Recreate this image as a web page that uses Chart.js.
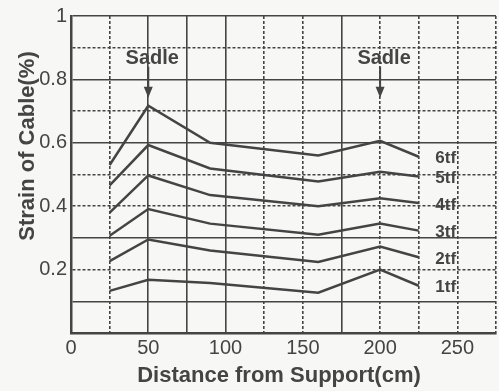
<!DOCTYPE html>
<html>
<head>
<meta charset="utf-8">
<script src="https://cdn.jsdelivr.net/npm/chart.js@4.4.1/dist/chart.umd.min.js"></script>
<style>
  html, body { margin: 0; padding: 0; background: #f7f7f5; }
  #wrap { width: 499px; height: 391px; }
</style>
</head>
<body>
<div id="wrap"><canvas id="strainChart"></canvas></div>
<script>
  // distance from support (cm)
  const distances = [25, 50, 90, 160, 200, 225];

  // strain of cable (%) per load step
  const strain1tf = [0.133, 0.168, 0.158, 0.127, 0.2, 0.149];
  const strain2tf = [0.227, 0.295, 0.26, 0.224, 0.273, 0.239];
  const strain3tf = [0.307, 0.391, 0.345, 0.31, 0.345, 0.323];
  const strain4tf = [0.38, 0.497, 0.435, 0.4, 0.425, 0.41];
  const strain5tf = [0.466, 0.593, 0.519, 0.478, 0.509, 0.494];
  const strain6tf = [0.53, 0.717, 0.6, 0.56, 0.606, 0.556];

  const loadLabels = ["1tf", "2tf", "3tf", "4tf", "5tf", "6tf"];
  const allStrains = [strain1tf, strain2tf, strain3tf, strain4tf, strain5tf, strain6tf];

  const xTickLabels = [0, 50, 100, 150, 200, 250];
  const yTickLabels = [0.2, 0.4, 0.6, 0.8, 1];

  const sadleAt = [50, 200];
  const sadleText = "Sadle";

  const ink = "#444444";
  const font = "'Liberation Sans', Arial, sans-serif";

  // which grid lines look dashed in the scan
  const dashedX = [25, 125, 150, 200, 225, 250, 275];
  const dashedY = [5, 7, 9, 4, 2]; // tenths

  const datasets = allStrains.map((vals, i) => ({
    label: loadLabels[i],
    data: distances.map((d, j) => ({ x: d, y: vals[j] })),
    borderColor: ink,
    borderWidth: 2.5,
    pointRadius: 0,
    tension: 0,
    fill: false,
  }));

  const extras = {
    id: "extras",
    afterDraw(chart) {
      const c = chart.ctx;
      const xs = chart.scales.x;
      const ys = chart.scales.y;
      c.save();
      c.fillStyle = ink;
      c.strokeStyle = ink;

      // load labels at the right end of each line
      c.font = "bold 17px " + font;
      c.textAlign = "center";
      c.textBaseline = "middle";
      allStrains.forEach((vals, i) => {
        const last = vals.length - 1;
        const px = xs.getPixelForValue(distances[last]) + 27;
        const py = ys.getPixelForValue(vals[last]) + 2;
        c.fillText(loadLabels[i], px, py);
      });

      // "Sadle" markers with arrows
      sadleAt.forEach((d) => {
        const px = xs.getPixelForValue(d);
        c.font = "bold 20px " + font;
        c.fillText(sadleText, px + 4, ys.getPixelForValue(0.866));
        const top = ys.getPixelForValue(0.84);
        const tip = ys.getPixelForValue(0.742);
        c.lineWidth = 2;
        c.beginPath();
        c.moveTo(px, top);
        c.lineTo(px, tip - 6);
        c.stroke();
        c.beginPath();
        c.moveTo(px - 4.5, tip - 11);
        c.lineTo(px + 4.5, tip - 11);
        c.lineTo(px, tip);
        c.closePath();
        c.fill();
      });

      // axis titles
      c.font = "bold 22px " + font;
      c.fillText("Distance from Support(cm)", 279, 376);
      c.translate(28, 146);
      c.rotate(-Math.PI / 2);
      c.fillText("Strain of Cable(%)", 0, 0);
      c.restore();
    },
  };

  new Chart(document.getElementById("strainChart"), {
    type: "line",
    data: { datasets },
    options: {
      responsive: true,
      maintainAspectRatio: false,
      animation: false,
      layout: { padding: { top: 11, right: 1, left: 0, bottom: 0 } },
      scales: {
        x: {
          type: "linear",
          min: 0,
          max: 275,
          afterFit: (s) => { s.height = 58; },
          ticks: {
            stepSize: 25,
            padding: 3,
            autoSkip: false,
            maxRotation: 0,
            minRotation: 0,
            color: ink,
            font: { family: font, size: 20 },
            callback: (v) => (xTickLabels.includes(v) ? String(v) : ""),
          },
          grid: { color: ink, lineWidth: 1.6, drawTicks: false },
          border: {
            color: ink,
            width: 2.5,
            dash: (ctx) => (ctx.tick && dashedX.includes(ctx.tick.value) ? [3, 2] : []),
          },
        },
        y: {
          min: 0,
          max: 1,
          afterFit: (s) => { s.width = 71; },
          ticks: {
            stepSize: 0.1,
            padding: 4,
            autoSkip: false,
            color: ink,
            font: { family: font, size: 20 },
            callback: (v) => {
              const t = Math.round(v * 10) / 10;
              return yTickLabels.includes(t) ? String(t) : "";
            },
          },
          grid: { color: ink, lineWidth: 1.6, drawTicks: false },
          border: {
            color: ink,
            width: 2.5,
            dash: (ctx) => (ctx.tick && dashedY.includes(Math.round(ctx.tick.value * 10)) ? [3, 2] : []),
          },
        },
      },
      plugins: {
        legend: { display: false },
        tooltip: { enabled: false },
      },
    },
    plugins: [extras],
  });
</script>
</body>
</html>
